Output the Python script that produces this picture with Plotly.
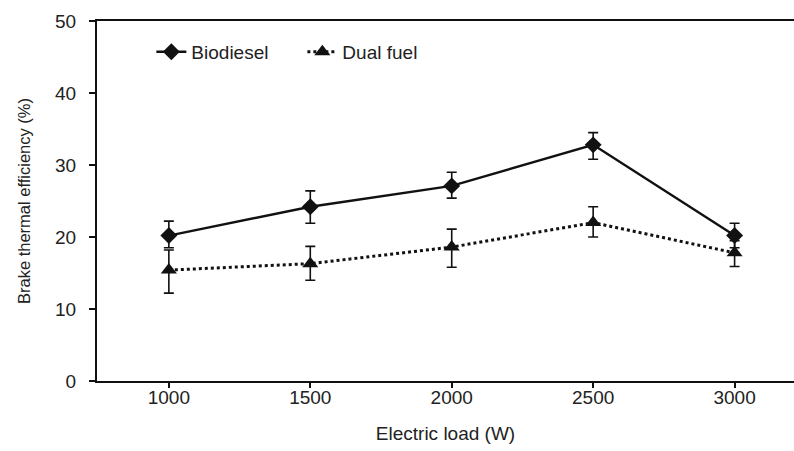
import plotly.graph_objects as go

load = [1000, 1500, 2000, 2500, 3000]
biodiesel = [20.2, 24.2, 27.1, 32.8, 20.2]
biodiesel_err_plus = [2.0, 2.2, 1.9, 1.7, 1.7]
biodiesel_err_minus = [1.7, 2.3, 1.7, 2.0, 1.7]
dual_fuel = [15.4, 16.3, 18.6, 22.0, 17.8]
dual_err_plus = [2.8, 2.4, 2.5, 2.2, 1.7]
dual_err_minus = [3.2, 2.3, 2.8, 2.0, 1.9]

ink = "#111111"
font = "Liberation Sans, Arial, sans-serif"

fig = go.Figure()
fig.add_trace(go.Scatter(
    x=load, y=biodiesel, name="Biodiesel", mode="lines+markers",
    line=dict(color=ink, width=2.4),
    marker=dict(symbol="diamond", size=13, color=ink),
    error_y=dict(type="data", array=biodiesel_err_plus, arrayminus=biodiesel_err_minus,
                 color=ink, thickness=1.6, width=5),
))
fig.add_trace(go.Scatter(
    x=load, y=dual_fuel, name="Dual fuel", mode="lines+markers",
    line=dict(color=ink, width=3, dash="dot"),
    marker=dict(symbol="triangle-up", size=14, color=ink),
    error_y=dict(type="data", array=dual_err_plus, arrayminus=dual_err_minus,
                 color=ink, thickness=1.6, width=5),
))

fig.update_layout(
    width=794, height=451,
    margin=dict(l=97, r=0, t=21, b=70, autoexpand=False),
    paper_bgcolor="white", plot_bgcolor="white",
    font=dict(family=font, size=18, color="#222"),
    showlegend=True,
    legend=dict(orientation="h", x=0.078, y=0.914, xanchor="left", yanchor="middle",
                bgcolor="rgba(0,0,0,0)", font=dict(size=19), itemwidth=30,
                entrywidth=106, entrywidthmode="pixels", tracegroupgap=0),
    xaxis=dict(
        range=[746, 3210], tickvals=load, ticktext=[str(v) for v in load],
        showgrid=False, zeroline=False, showline=True, linecolor=ink, linewidth=2,
        mirror=True, ticks="outside", ticklen=5, tickwidth=1.5, tickcolor=ink,
        title=dict(text="Electric load (W)", standoff=20, font=dict(size=19)),
        tickfont=dict(size=19), ticklabelstandoff=-7,
    ),
    yaxis=dict(
        range=[0, 50], dtick=10,
        showgrid=False, zeroline=False, showline=True, linecolor=ink, linewidth=2,
        ticks="outside", ticklen=6, tickwidth=1.5, tickcolor=ink,
        title=dict(text="Brake thermal efficiency (%)", standoff=20, font=dict(size=16.5)),
        tickfont=dict(size=19), ticklabelstandoff=9,
    ),
)

fig.write_html("out.html", config={"displayModeBar": False},
               post_script="document.body.style.margin='0';document.body.style.overflow='hidden';")
